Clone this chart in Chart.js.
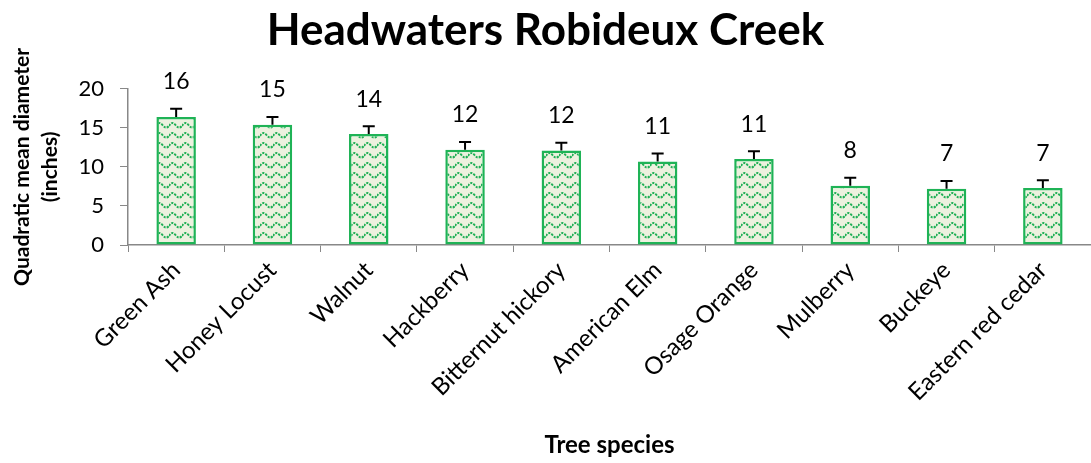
<!DOCTYPE html>
<html>
<head>
<meta charset="utf-8">
<script src="https://cdn.jsdelivr.net/npm/chart.js@4.4.0/dist/chart.umd.min.js"></script>
<style>
  body { margin: 0; background: #fff; }
  #wrap { width: 1091px; height: 463px; }
</style>
</head>
<body>
<div id="wrap"><canvas id="qmdChart"></canvas></div>
<script>
// data
var species = ['Green Ash', 'Honey Locust', 'Walnut', 'Hackberry', 'Bitternut hickory',
               'American Elm', 'Osage Orange', 'Mulberry', 'Buckeye', 'Eastern red cedar'];
var qmd = [16.4, 15.4, 14.2, 12.2, 12.1, 10.7, 11.0, 7.6, 7.2, 7.3];
var qmdError = [1.05, 1.0, 1.0, 1.0, 1.0, 1.0, 1.0, 1.0, 1.0, 1.0];
var qmdShown = [16, 15, 14, 12, 12, 11, 11, 8, 7, 7];
var yTicks = [0, 5, 10, 15, 20];

var FONT = 'Lato, "Open Sans", sans-serif';

// wavy dotted fill like the spreadsheet pattern
function makePattern() {
  var c = document.createElement('canvas');
  c.width = 13; c.height = 10;
  var g = c.getContext('2d');
  g.fillStyle = '#edf1df';
  g.fillRect(0, 0, 13, 10);
  g.strokeStyle = '#1faf55';
  g.lineWidth = 2;
  g.setLineDash([2.2, 1.2]);
  g.beginPath();
  g.moveTo(0, 6);
  g.quadraticCurveTo(3.25, 0.5, 6.5, 5);
  g.quadraticCurveTo(9.75, 9.5, 13, 6);
  g.stroke();
  return document.getElementById('qmdChart').getContext('2d').createPattern(c, 'repeat');
}

var errorBars = {
  id: 'errorBars',
  afterDatasetsDraw: function(chart) {
    var ctx = chart.ctx;
    var meta = chart.getDatasetMeta(0);
    var y = chart.scales.y;
    ctx.save();
    meta.data.forEach(function(bar, i) {
      var top = y.getPixelForValue(qmd[i] + qmdError[i]);
      ctx.strokeStyle = '#000';
      ctx.lineWidth = 2;
      ctx.beginPath();
      ctx.moveTo(bar.x, bar.y);
      ctx.lineTo(bar.x, top);
      ctx.moveTo(bar.x - 6, top);
      ctx.lineTo(bar.x + 6, top);
      ctx.stroke();
      ctx.fillStyle = '#000';
      ctx.font = '23px ' + FONT;
      ctx.textAlign = 'center';
      ctx.textBaseline = 'middle';
      ctx.fillText(String(qmdShown[i]), bar.x, top - 27);
    });
    ctx.restore();
  }
};

new Chart(document.getElementById('qmdChart'), {
  type: 'bar',
  data: {
    labels: species,
    datasets: [{
      data: qmd,
      backgroundColor: makePattern(),
      borderColor: '#1fb356',
      borderWidth: 2.5,
      borderSkipped: false,
      barPercentage: 0.41,
      categoryPercentage: 1
    }]
  },
  options: {
    responsive: true,
    maintainAspectRatio: false,
    animation: false,
    layout: { padding: 0 },
    plugins: {
      legend: { display: false },
      tooltip: { enabled: false },
      title: {
        display: true,
        text: 'Headwaters Robideux Creek',
        color: '#000',
        font: { family: FONT, size: 44, weight: 'bold' },
        padding: { top: 4, bottom: 32 }
      }
    },
    scales: {
      x: {
        grid: { offset: true, drawOnChartArea: false, tickLength: 7, color: '#888' },
        border: { color: '#888', width: 1.5 },
        ticks: {
          color: '#000', font: { family: FONT, size: 24 },
          maxRotation: 45, minRotation: 45, autoSkip: false, padding: 4
        },
        title: {
          display: true, text: 'Tree species', color: '#000',
          font: { family: FONT, size: 24, weight: 'bold' },
          padding: { top: 0, bottom: 3 }
        },
        afterFit: function(s) { s.height = 463 - 245; }
      },
      y: {
        min: 0, max: 20,
        afterBuildTicks: function(s) { s.ticks = yTicks.map(function(v) { return { value: v }; }); },
        grid: { drawOnChartArea: false, tickLength: 8, color: '#888' },
        border: { color: '#888', width: 1.5 },
        ticks: { color: '#000', font: { family: FONT, size: 22 }, padding: 16 },
        title: {
          display: true, text: ['Quadratic mean diameter', '(inches)'], color: '#000',
          font: { family: FONT, size: 21, weight: 'bold', lineHeight: 1.35 },
          padding: { top: 8, bottom: 0 }
        },
        afterFit: function(s) { s.width = 128; }
      }
    }
  },
  plugins: [errorBars]
});
</script>
</body>
</html>
